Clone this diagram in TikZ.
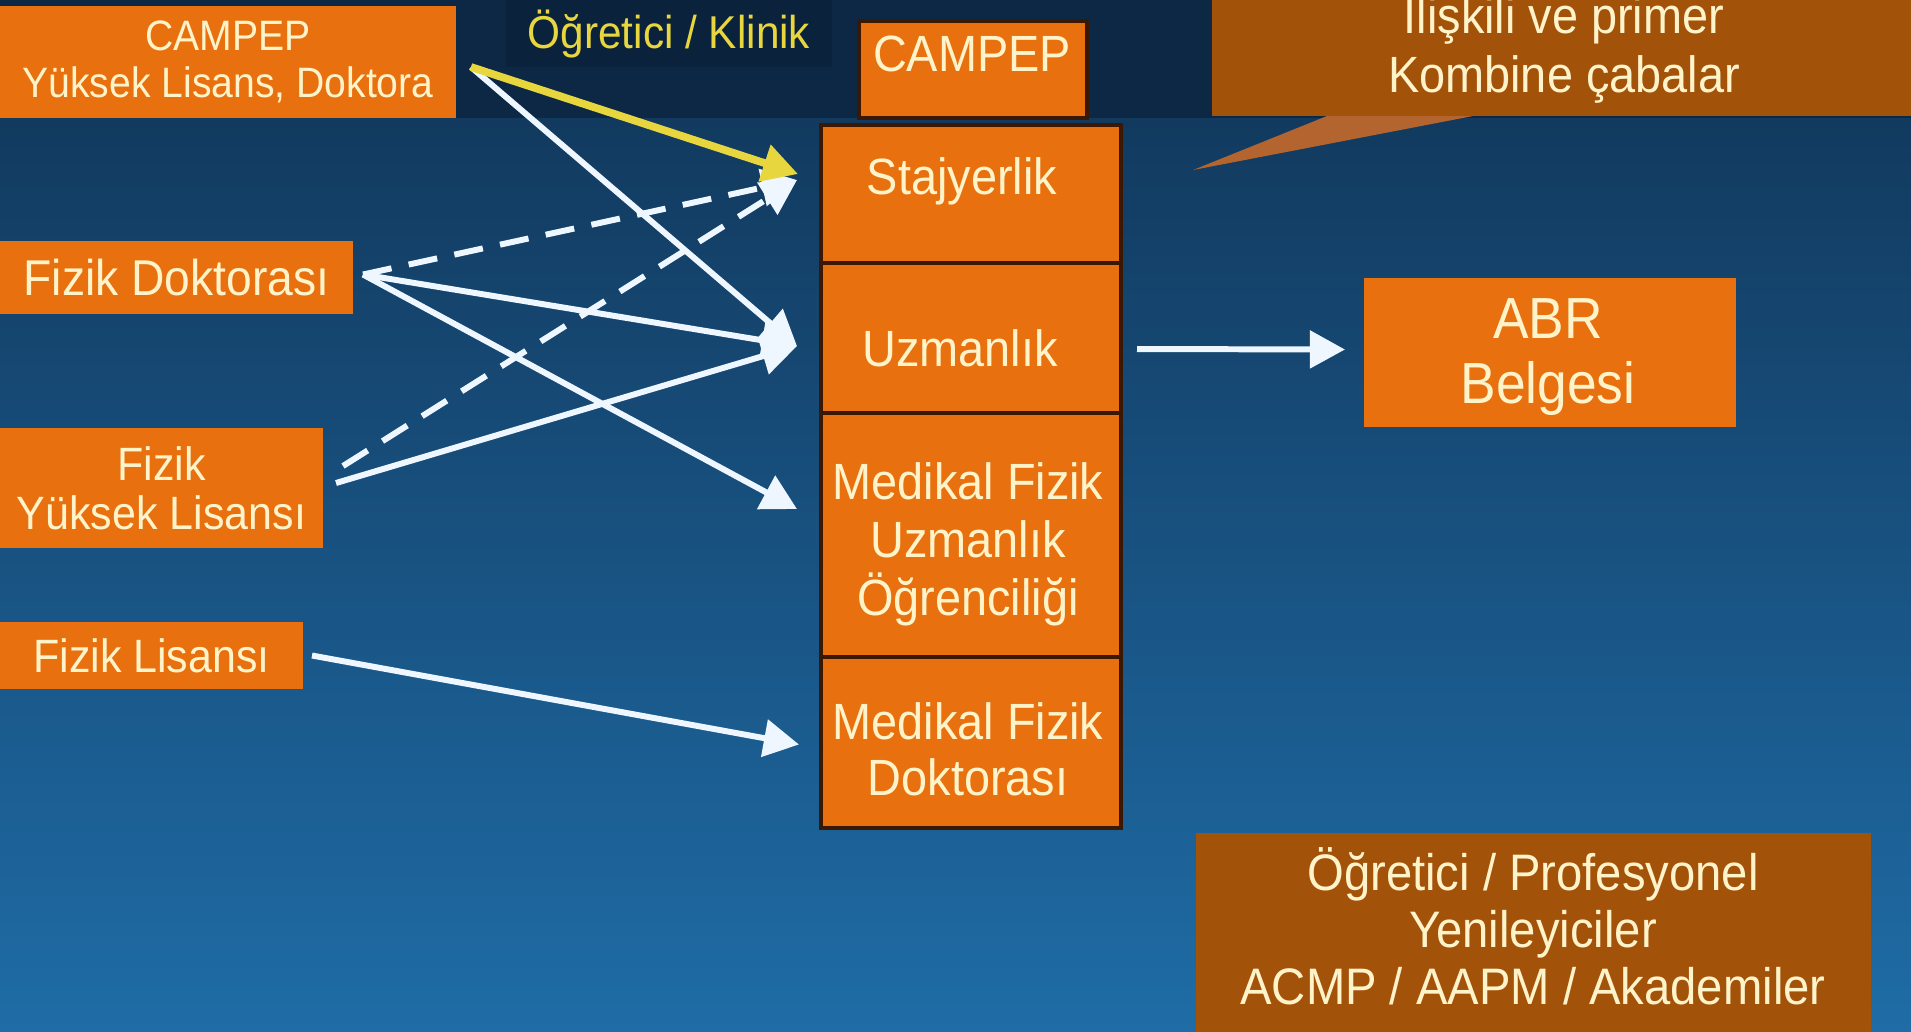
\documentclass[tikz,border=0pt]{standalone}
\usepackage{fontspec}
\setmainfont{Liberation Sans}[FakeStretch=0.92]
\usepackage{tikz}
\usetikzlibrary{positioning}
\usetikzlibrary{calc}
\usetikzlibrary{arrows.meta}
\definecolor{bgtop}{RGB}{12,40,68}
\definecolor{bghi}{RGB}{18,58,95}
\definecolor{bgmid}{RGB}{23,82,130}
\definecolor{bgbot}{RGB}{31,108,166}
\definecolor{clab}{RGB}{10,34,60}
\definecolor{co}{RGB}{232,112,14}
\definecolor{cbr}{RGB}{163,82,10}
\definecolor{cptr}{RGB}{180,100,46}
\definecolor{cbd}{RGB}{58,24,4}
\definecolor{ct}{RGB}{255,243,202}
\definecolor{cy}{RGB}{232,214,62}
\definecolor{cw}{RGB}{238,246,255}
\tikzstyle{txt}=[ct, align=center, inner sep=0pt, font=\fontsize{14.5}{16.5}\selectfont]
\tikzstyle{box}=[txt, fill=co, outer sep=0pt, anchor=north west]
\tikzstyle{colbox}=[box, draw=cbd, line width=0.4mm]
\tikzstyle{note}=[txt, fill=cbr, outer sep=0pt, anchor=north west]
\tikzstyle{labelbox}=[txt, fill=clab, text=cy, minimum width=32.6mm, minimum height=6.7mm, font=\fontsize{13.1}{15}\selectfont]
\tikzstyle{arrow}=[cw, line width=1.7pt, ->, >={Triangle[length=10pt,width=10.5pt]}]
\tikzstyle{dasharrow}=[arrow, dash pattern=on 8.3pt off 5pt]
\tikzstyle{yarrow}=[arrow, cy, line width=2.2pt]

\begin{document}
\begin{tikzpicture}[x=0.1mm, y=-0.1mm]
  \useasboundingbox (0,0) rectangle (1911,1031);
  \clip (0,0) rectangle (1911,1031);
  % background
  \fill [bgtop] (0,0) rectangle (1911,118);
  \shade [top color=bghi, middle color=bgmid, bottom color=bgbot] (0,118) rectangle (1911,1031);

  % degrees on the left
  \node [box, minimum width=45.6mm, minimum height=11.2mm, font=\fontsize{12.1}{13.4}\selectfont] (campepyl) at (0,6) {CAMPEP\\Yüksek Lisans, Doktora};
  \node [labelbox] (klinik) at (669,33.5) {Öğretici / Klinik};
  \node [box, minimum width=35.3mm, minimum height=7.3mm, font=\fontsize{14.3}{16}\selectfont] (fizdok) at (0,241) {Fizik Doktorası};
  \node [box, minimum width=32.3mm, minimum height=12mm, font=\fontsize{13.3}{14}\selectfont] (fizyl) at (0,428) {Fizik\\Yüksek Lisansı};
  \node [box, minimum width=30.3mm, minimum height=6.7mm, font=\fontsize{13.3}{15}\selectfont] (fizlis) at (0,622) {Fizik Lisansı};

  % programmes
  \node [colbox, minimum width=22.8mm, minimum height=9.7mm] (campep) at (859,21) {};
  \node [colbox, minimum width=30mm, minimum height=13.8mm] (staj) at (821,125) {};
  \node [colbox, minimum width=30mm, minimum height=15mm] (uzman) [below=0mm of staj] {};
  \node [colbox, minimum width=30mm, minimum height=24.4mm] (mfuo) [below=0mm of uzman] {};
  \node [colbox, minimum width=30mm, minimum height=17.1mm] (mfd) [below=0mm of mfuo] {};
  \node [txt] (campep-t) at (972,54) {CAMPEP};
  \node [txt] (staj-t) at (962,181) {Stajyerlik};
  \node [txt] (uzman-t) at (960,348) {Uzmanlık};
  \node [txt] (mfuo-t) at (968,544) {Medikal Fizik\\Uzmanlık\\Öğrenciliği};
  \node [txt, font=\fontsize{14.5}{15.9}\selectfont] (mfd-t) at (968,749) {Medikal Fizik\\Doktorası};

  \node [box, minimum width=37.2mm, minimum height=14.9mm] (abr) at (1364,278) {};
  \node [txt, font=\fontsize{16.5}{18.5}\selectfont] (abr-t) at (1548,357) {ABR\\Belgesi};

  % notes
  \coordinate (ptrtip) at (1193,170);
  \node [note, minimum width=69.9mm, minimum height=16.6mm] (callout) at (1212,-50) {};
  \fill [cptr] ($(callout.south west)+(115,0)$) -- ($(callout.south west)+(261,0)$) -- (ptrtip) -- cycle;
  \node [txt, font=\fontsize{14.5}{16.8}\selectfont] (callout-t) at (1564,46) {İlişkili ve primer\\Kombine çabalar};
  \node [note, minimum width=67.5mm, minimum height=20mm] (yenil) at (1196,833) {};
  \node [txt, font=\fontsize{14.6}{16.2}\selectfont] (yenil-t) at (1533,926) {Öğretici / Profesyonel\\Yenileyiciler\\ACMP / AAPM / Akademiler};

  % arrows
  \draw [arrow] ($(campepyl.east)+(15,5)$) -- ($(uzman.west)+(-24,8)$);
  \draw [dasharrow] ($(fizdok.east)+(10,-3)$) -- ($(staj.west)+(-24,-14)$);
  \draw [arrow] ($(fizdok.east)+(10,-3)$) -- ($(uzman.west)+(-24,8)$);
  \draw [arrow] ($(fizdok.east)+(10,-3)$) -- ($(mfuo.west)+(-24,-26)$);
  \draw [dasharrow] ($(fizyl.east)+(20,-22)$) -- ($(staj.west)+(-24,-14)$);
  \draw [arrow] ($(fizyl.east)+(13,-5)$) -- ($(uzman.west)+(-24,8)$);
  \draw [arrow] ($(fizlis.east)+(9,0)$) -- ($(mfd.west)+(-22,2)$);
  \draw [arrow] ($(uzman.east)+(16,11)$) -- ($(abr.west)+(-19,-3)$);
  \draw [yarrow] ($(campepyl.east)+(15,5)$) -- ($(staj.west)+(-23,-20)$);
\end{tikzpicture}
\end{document}
